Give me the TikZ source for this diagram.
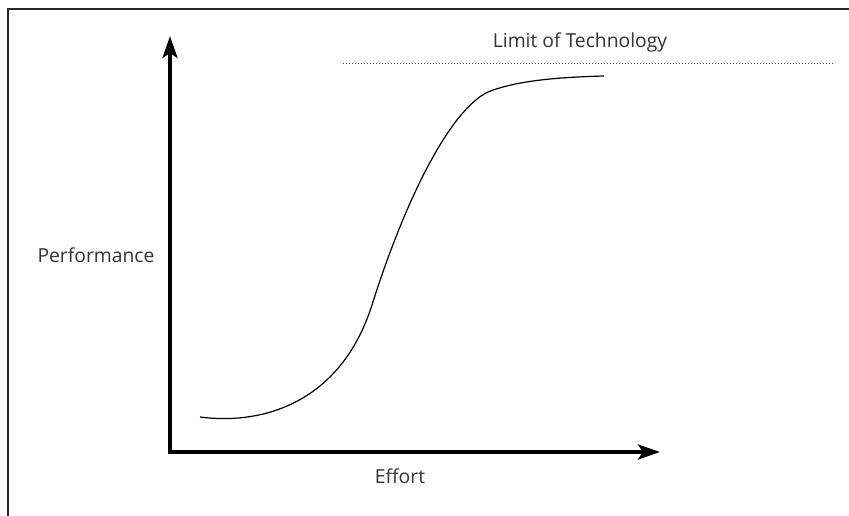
\documentclass[tikz,border=0pt]{standalone}
\usepackage{fontspec}
\setmainfont{Open Sans}
\usepackage{tikz}
\usetikzlibrary{arrows.meta}

\tikzset{
    axis/.style={line width=3.5pt, -{Stealth[length=22pt, width=15pt, inset=5pt]}},
    label/.style={font=\fontsize{19.3}{23}\selectfont, text=black!80, inner sep=0pt}
}

\begin{document}
\begin{tikzpicture}[x=1pt, y=-1pt]
                \useasboundingbox (0, 0) rectangle (849, 516);
                \coordinate (origin) at (170, 452){};
                \coordinate (ytip) at (170, 36){};
                \coordinate (xtip) at (660, 452){};
                \coordinate (limL) at (343, 63){};
                \coordinate (limR) at (834, 63){};

                % frame
                \draw[line width=2.5pt, black!85] (8, 516) -- (8, 9) -- (849, 9);

                % axes
                \draw[axis] ([yshift=2pt]origin) -- (ytip);
                \draw[axis] ([xshift=-2pt]origin) -- (xtip);

                % limit line
                \draw[line width=0.9pt, black!70, dash pattern=on 1pt off 2pt] (limL) -- (limR);

                % s-curve
                \draw[line width=1.2pt] (200, 417)
                    .. controls (260, 425) and (340, 405) .. (372, 305)
                    .. controls (405, 200) and (450, 110) .. (488, 92)
                    .. controls (520, 79) and (570, 77) .. (604, 76);

                \node[label] (limit) at (580, 42) {Limit of Technology};
                \node[label] (perf) at (96, 255) {Performance};
                \node[label] (effort) at (400, 476) {Effort};
            \end{tikzpicture}
\end{document}
